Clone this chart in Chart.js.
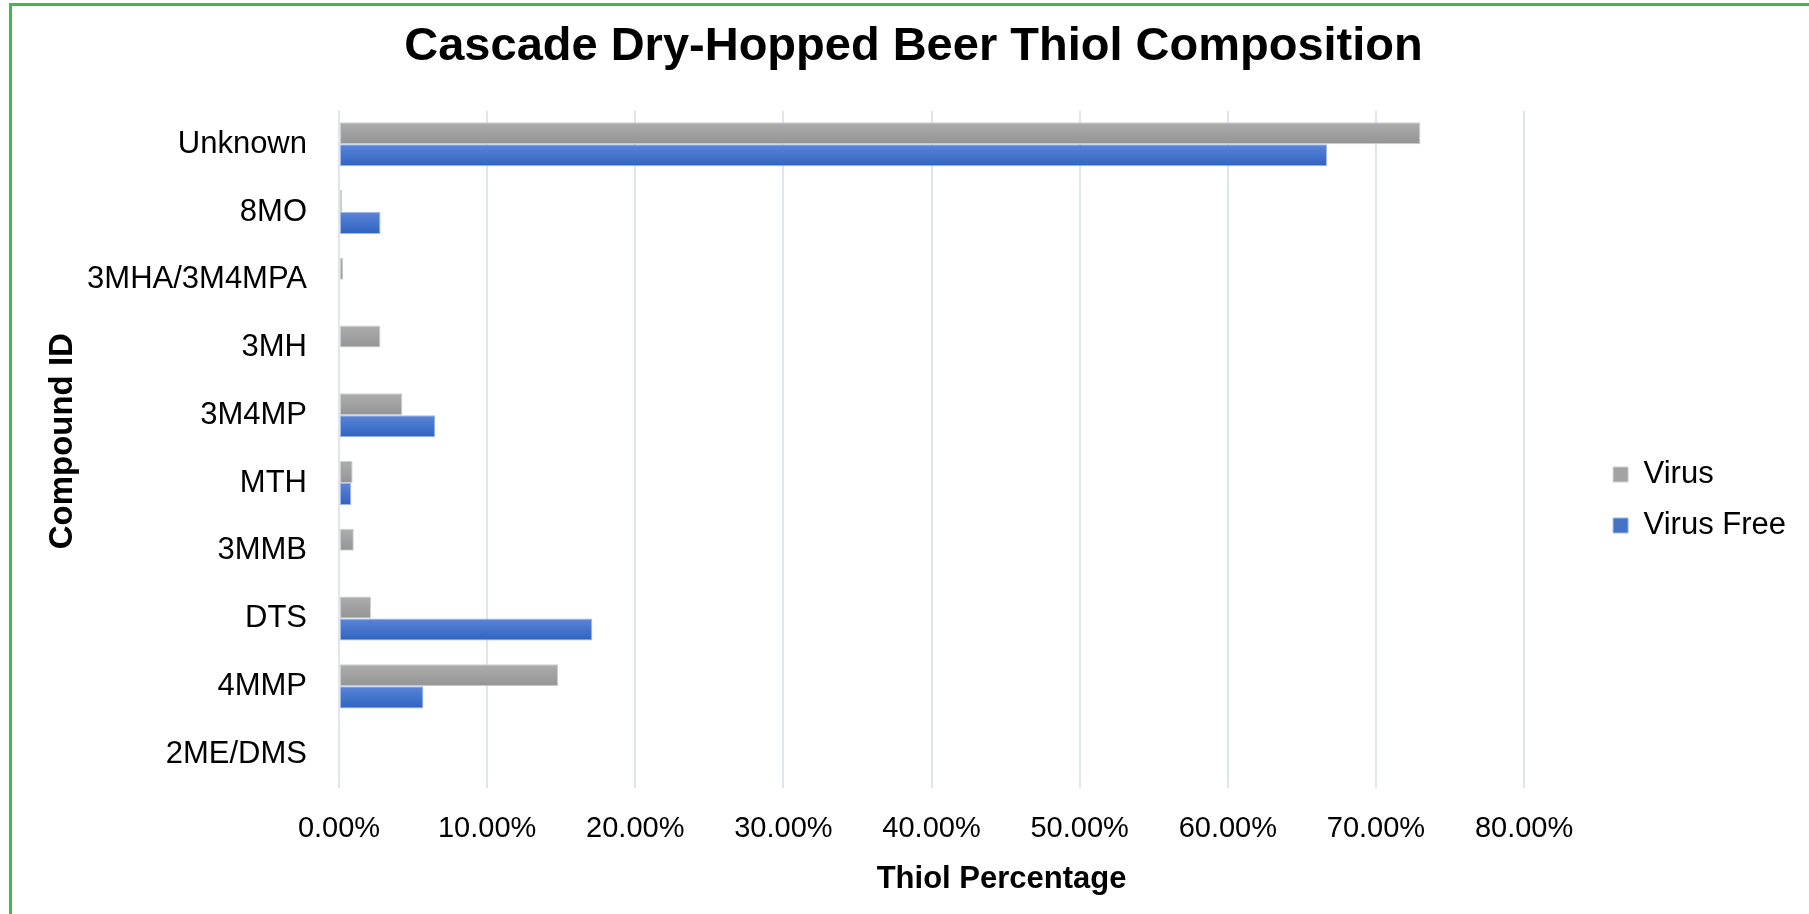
<!DOCTYPE html>
<html>
<head>
<meta charset="utf-8">
<script src="https://cdn.jsdelivr.net/npm/chart.js@4.4.1/dist/chart.umd.min.js"></script>
<style>
  html, body { margin: 0; padding: 0; background: #ffffff; overflow: hidden; }
  #wrap { position: relative; width: 1809px; height: 914px; }
  #frame { position: absolute; left: 9px; top: 3px; width: 1900px; height: 1000px;
           border-top: 3px solid #45b84b; border-left: 3px solid #45b84b; pointer-events: none; }
  canvas { position: absolute; left: 0; top: 0; }
</style>
</head>
<body>
<div id="wrap">
  <canvas id="c" width="1809" height="914"></canvas>
  <div id="frame"></div>
</div>
<script>
// ---- data ----
const categories = ['Unknown', '8MO', '3MHA/3M4MPA', '3MH', '3M4MP', 'MTH', '3MMB', 'DTS', '4MMP', '2ME/DMS'];
const virus      = [73.0, 0.22, 0.29, 2.8, 4.28, 0.92, 1.0, 2.16, 14.8, 0];
const virusFree  = [66.7, 2.8, 0, 0, 6.5, 0.83, 0, 17.1, 5.7, 0];
const seriesNames = ['Virus', 'Virus Free'];
const xTicks = [0, 10, 20, 30, 40, 50, 60, 70, 80];

// ---- styling helpers ----
const FONT = 'Liberation Sans, Arial, Helvetica, sans-serif';
Chart.defaults.font.family = FONT;
Chart.defaults.color = '#000000';

const CAT_PCT = 0.65;
function barGradient(ctx, top, bottom, solid) {
  const chart = ctx.chart;
  const ys = chart.scales && chart.scales.y;
  if (!chart.chartArea || !ys) return solid;
  const center = ys.getPixelForValue(ctx.dataIndex);
  const band = (ys.height / categories.length) * CAT_PCT / 2;
  const y0 = ctx.datasetIndex === 0 ? center - band : center;
  const g = chart.ctx.createLinearGradient(0, y0, 0, y0 + band);
  g.addColorStop(0, top);
  g.addColorStop(1, bottom);
  return g;
}

// positioning tweaks (layout only)
const LEGEND_EXTRA_W = 82;
const LEGEND_SHIFT_X = 69;
const LEGEND_SHIFT_Y = 43;
const TITLE_SHIFT_X = 9;
const XTITLE_SHIFT_X = 70;
const YTITLE_SHIFT_Y = -8;
function patchTitle(scale, dx, dy) {
  if (!scale || scale.__patched) return;
  const dt = scale.drawTitle;
  scale.drawTitle = function () {
    const l = this.left, r = this.right, t = this.top, b = this.bottom;
    this.left = l + dx; this.right = r + dx; this.top = t + dy; this.bottom = b + dy;
    dt.apply(this, arguments);
    this.left = l; this.right = r; this.top = t; this.bottom = b;
  };
  scale.__patched = true;
}
const placement = {
  id: 'placement',
  beforeLayout(chart) {
    const lg = chart.legend;
    if (lg && !lg.__patched) {
      const fit = lg.fit;
      lg.fit = function () { fit.call(this); this.width += LEGEND_EXTRA_W; };
      lg.__patched = true;
    }
  },
  afterLayout(chart) {
    const lg = chart.legend;
    if (lg) {
      lg.left += LEGEND_SHIFT_X;
      lg.top += LEGEND_SHIFT_Y;
      lg.bottom += LEGEND_SHIFT_Y;
    }
    const tb = chart.titleBlock;
    if (tb) { tb.left += TITLE_SHIFT_X; tb.right += TITLE_SHIFT_X; }
    patchTitle(chart.scales.x, XTITLE_SHIFT_X, 0);
    patchTitle(chart.scales.y, 0, YTITLE_SHIFT_Y);
  }
};

new Chart(document.getElementById('c'), {
  type: 'bar',
  data: {
    labels: categories,
    datasets: [
      {
        label: seriesNames[0],
        data: virus,
        backgroundColor: (ctx) => barGradient(ctx, '#adadad', '#949494', '#a3a3a3'),
        borderColor: '#cfcfcf',
        borderWidth: 1,
        borderSkipped: false,
        categoryPercentage: CAT_PCT,
        barPercentage: 1.0
      },
      {
        label: seriesNames[1],
        data: virusFree,
        backgroundColor: (ctx) => barGradient(ctx, '#5b86d8', '#2f62c0', '#4472c4'),
        borderColor: '#9fb8e6',
        borderWidth: 1,
        borderSkipped: false,
        categoryPercentage: CAT_PCT,
        barPercentage: 1.0
      }
    ]
  },
  options: {
    indexAxis: 'y',
    responsive: false,
    animation: false,
    devicePixelRatio: 1,
    layout: { padding: { top: 0, left: 0, right: 0, bottom: 0 } },
    plugins: {
      title: {
        display: true,
        text: 'Cascade Dry-Hopped Beer Thiol Composition',
        color: '#000000',
        font: { family: FONT, size: 47, weight: 'bold' },
        padding: { top: 19, bottom: 35 }
      },
      legend: {
        display: true,
        position: 'right',
        align: 'center',
        labels: {
          color: '#000000',
          font: { family: FONT, size: 31 },
          boxWidth: 15,
          boxHeight: 15,
          padding: 20,
          generateLabels: (chart) => chart.data.datasets.map((ds, i) => ({
            text: ds.label,
            fillStyle: i === 0 ? '#a3a3a3' : '#4472c4',
            strokeStyle: i === 0 ? '#cfcfcf' : '#9fb8e6',
            lineWidth: 1,
            datasetIndex: i,
            hidden: false
          }))
        }
      },
      tooltip: { enabled: false }
    },
    scales: {
      x: {
        type: 'linear',
        min: 0,
        max: 80,
        afterBuildTicks: (scale) => { scale.ticks = xTicks.map(v => ({ value: v })); },
        ticks: {
          padding: 24,
          color: '#000000',
          font: { family: FONT, size: 29 },
          callback: (v) => Number(v).toFixed(2) + '%'
        },
        grid: { color: '#e1e5ec', lineWidth: 2, drawTicks: false },
        border: { display: false },
        title: {
          display: true,
          text: 'Thiol Percentage',
          color: '#000000',
          font: { family: FONT, size: 31, weight: 'bold' },
          padding: { top: 0, bottom: 16 }
        },
        afterFit: (scale) => { scale.height = 126; }
      },
      y: {
        type: 'category',
        ticks: {
          padding: 32,
          color: '#000000',
          font: { family: FONT, size: 31 }
        },
        grid: { display: false, drawTicks: false },
        border: { display: false },
        title: {
          display: true,
          text: 'Compound ID',
          color: '#000000',
          font: { family: FONT, size: 33, weight: 'bold' },
          padding: { top: 43, bottom: 0 }
        },
        afterFit: (scale) => { scale.width = 339; }
      }
    }
  },
  plugins: [placement]
});
</script>
</body>
</html>
